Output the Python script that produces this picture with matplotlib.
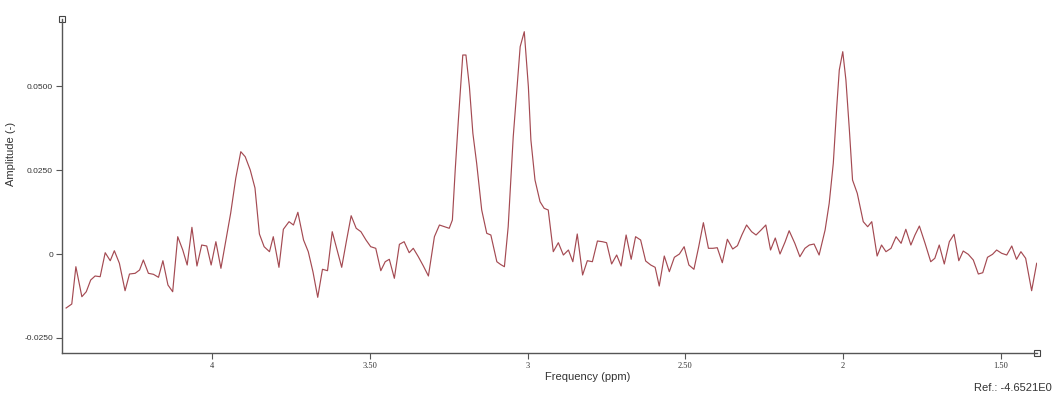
"""
MR spectrum plot: amplitude vs chemical shift (ppm), reversed x axis.
"""

import matplotlib
matplotlib.use("Agg")
import matplotlib.pyplot as plt

# -----------------------------------------------------------------------------
# Data
# -----------------------------------------------------------------------------
ppm = [
    4.464, 4.446, 4.433, 4.414, 4.400, 4.386, 4.372, 4.356, 4.340, 4.324,
    4.311, 4.295, 4.277, 4.263, 4.245, 4.231, 4.219, 4.203, 4.187, 4.171,
    4.157, 4.141, 4.126, 4.110, 4.094, 4.080, 4.065, 4.049, 4.034, 4.018,
    4.004, 3.989, 3.973, 3.957, 3.942, 3.926, 3.910, 3.896, 3.880, 3.865,
    3.851, 3.836, 3.819, 3.807, 3.789, 3.775, 3.757, 3.743, 3.729, 3.711,
    3.696, 3.681, 3.666, 3.651, 3.635, 3.620, 3.605, 3.590, 3.575, 3.560,
    3.544, 3.529, 3.513, 3.498, 3.482, 3.466, 3.452, 3.439, 3.423, 3.407,
    3.392, 3.376, 3.363, 3.347, 3.331, 3.315, 3.296, 3.280, 3.264, 3.249,
    3.239, 3.230, 3.220, 3.206, 3.196, 3.185, 3.174, 3.162, 3.146, 3.130,
    3.117, 3.098, 3.086, 3.074, 3.062, 3.046, 3.024, 3.011, 2.998, 2.990,
    2.977, 2.961, 2.948, 2.935, 2.919, 2.903, 2.887, 2.871, 2.857, 2.843,
    2.826, 2.811, 2.795, 2.779, 2.763, 2.750, 2.734, 2.718, 2.704, 2.688,
    2.672, 2.658, 2.642, 2.626, 2.610, 2.596, 2.583, 2.567, 2.551, 2.535,
    2.519, 2.504, 2.489, 2.473, 2.458, 2.443, 2.427, 2.413, 2.399, 2.383,
    2.367, 2.350, 2.335, 2.321, 2.306, 2.290, 2.276, 2.260, 2.245, 2.230,
    2.215, 2.200, 2.184, 2.171, 2.153, 2.137, 2.121, 2.107, 2.092, 2.076,
    2.057, 2.044, 2.031, 2.020, 2.012, 2.001, 1.991, 1.980, 1.970, 1.955,
    1.936, 1.922, 1.909, 1.892, 1.878, 1.864, 1.848, 1.832, 1.816, 1.801,
    1.785, 1.772, 1.758, 1.740, 1.722, 1.709, 1.695, 1.679, 1.663, 1.648,
    1.633, 1.619, 1.603, 1.587, 1.571, 1.557, 1.542, 1.526, 1.513, 1.497,
    1.481, 1.465, 1.450, 1.436, 1.421, 1.402, 1.386,
]

amplitude = [
    -0.01611, -0.01492, -0.00379, -0.01274, -0.01125, -0.00776, -0.00656, -0.00677, 0.00039, -0.00200,
    0.00098, -0.00277, -0.01095, -0.00597, -0.00576, -0.00477, -0.00179, -0.00576, -0.00606, -0.00695,
    -0.00200, -0.00925, -0.01125, 0.00516, 0.00119, -0.00328, 0.00796, -0.00358, 0.00268, 0.00239,
    -0.00328, 0.00367, -0.00427, 0.00418, 0.01223, 0.02258, 0.03052, 0.02902, 0.02506, 0.01969,
    0.00597, 0.00218, 0.00069, 0.00516, -0.00397, 0.00737, 0.00964, 0.00865, 0.01244, 0.00418,
    0.00069, -0.00537, -0.01292, -0.00456, -0.00498, 0.00665, 0.00140, -0.00397, 0.00388, 0.01142,
    0.00767, 0.00665, 0.00418, 0.00218, 0.00170, -0.00498, -0.00230, -0.00158, -0.00725, 0.00289,
    0.00367, 0.00039, 0.00170, -0.00081, -0.00358, -0.00656, 0.00516, 0.00865, 0.00814, 0.00767,
    0.01014, 0.02506, 0.03997, 0.05936, 0.05936, 0.04991, 0.03600, 0.02706, 0.01313, 0.00617,
    0.00567, -0.00230, -0.00313, -0.00379, 0.00814, 0.03499, 0.06184, 0.06631, 0.04991, 0.03401,
    0.02207, 0.01560, 0.01363, 0.01313, 0.00069, 0.00337, -0.00030, 0.00119, -0.00230, 0.00597,
    -0.00626, -0.00200, -0.00230, 0.00388, 0.00367, 0.00337, -0.00298, -0.00030, -0.00358, 0.00567,
    -0.00158, 0.00516, 0.00418, -0.00209, -0.00328, -0.00397, -0.00955, -0.00060, -0.00528, -0.00098,
    0.00000, 0.00218, -0.00328, -0.00456, 0.00209, 0.00934, 0.00170, 0.00170, 0.00188, -0.00260,
    0.00439, 0.00149, 0.00248, 0.00567, 0.00865, 0.00665, 0.00567, 0.00716, 0.00865, 0.00119,
    0.00477, 0.00000, 0.00358, 0.00695, 0.00319, -0.00081, 0.00170, 0.00268, 0.00298, -0.00030,
    0.00716, 0.01512, 0.02706, 0.04394, 0.05489, 0.06035, 0.05190, 0.03699, 0.02207, 0.01811,
    0.00964, 0.00814, 0.00964, -0.00060, 0.00268, 0.00069, 0.00170, 0.00516, 0.00319, 0.00737,
    0.00268, 0.00567, 0.00835, 0.00319, -0.00230, -0.00128, 0.00268, -0.00298, 0.00367, 0.00588,
    -0.00200, 0.00089, -0.00009, -0.00179, -0.00597, -0.00558, -0.00098, -0.00009, 0.00119, 0.00021,
    -0.00030, 0.00239, -0.00158, 0.00069, -0.00128, -0.01095, -0.00277,
]

x_ticks = [4.0, 3.5, 3.0, 2.5, 2.0, 1.5]
x_tick_labels = ["4", "3.50", "3", "2.50", "2", "1.50"]
y_ticks = [-0.025, 0.0, 0.025, 0.05]
y_tick_labels = ["-0.0250", "0", "0.0250", "0.0500"]

reference_text = "Ref.: -4.6521E0"

# -----------------------------------------------------------------------------
# Plot
# -----------------------------------------------------------------------------
plt.rcParams["font.family"] = ["Liberation Sans", "DejaVu Sans"]

fig = plt.figure(figsize=(10.55, 3.96), dpi=100)
ax = fig.add_axes([62 / 1055, 43 / 396, 975 / 1055, 334 / 396])

ax.plot(ppm, amplitude, color="#a44a52", linewidth=0.85)

ax.set_xlim(4.477, 1.385)
ax.set_ylim(-0.02953, 0.0701)

ax.set_xticks(x_ticks)
ax.set_xticklabels(x_tick_labels, fontsize=6, family="Liberation Serif")
ax.set_yticks(y_ticks)
ax.set_yticklabels(y_tick_labels, fontsize=6)

for side in ["top", "right"]:
    ax.spines[side].set_visible(False)
for side in ["left", "bottom"]:
    ax.spines[side].set_color("#555555")
    ax.spines[side].set_linewidth(1.0)
ax.tick_params(axis="both", direction="out", length=4, width=0.8,
               color="#555555", labelcolor="#333333", pad=2.5)

# small square handles at the ends of the axes
ax.plot([0], [1], marker="s", markersize=5, markerfacecolor="white",
        markeredgecolor="#444444", markeredgewidth=0.8,
        transform=ax.transAxes, clip_on=False)
ax.plot([1], [0], marker="s", markersize=5, markerfacecolor="white",
        markeredgecolor="#444444", markeredgewidth=0.8,
        transform=ax.transAxes, clip_on=False)

ax.set_xlabel("Frequency (ppm)", fontsize=8, color="#333333")
ax.xaxis.set_label_coords((588 - 62) / 975, -0.058)
ax.set_ylabel("Amplitude (-)", fontsize=8, color="#333333")
ax.yaxis.set_label_coords(-0.047, 0.595)

fig.text(1052 / 1055, 1 - 388 / 396, reference_text, fontsize=8,
         color="#333333", ha="right", va="center")

plt.savefig("out.png", dpi=100)
plt.close()
